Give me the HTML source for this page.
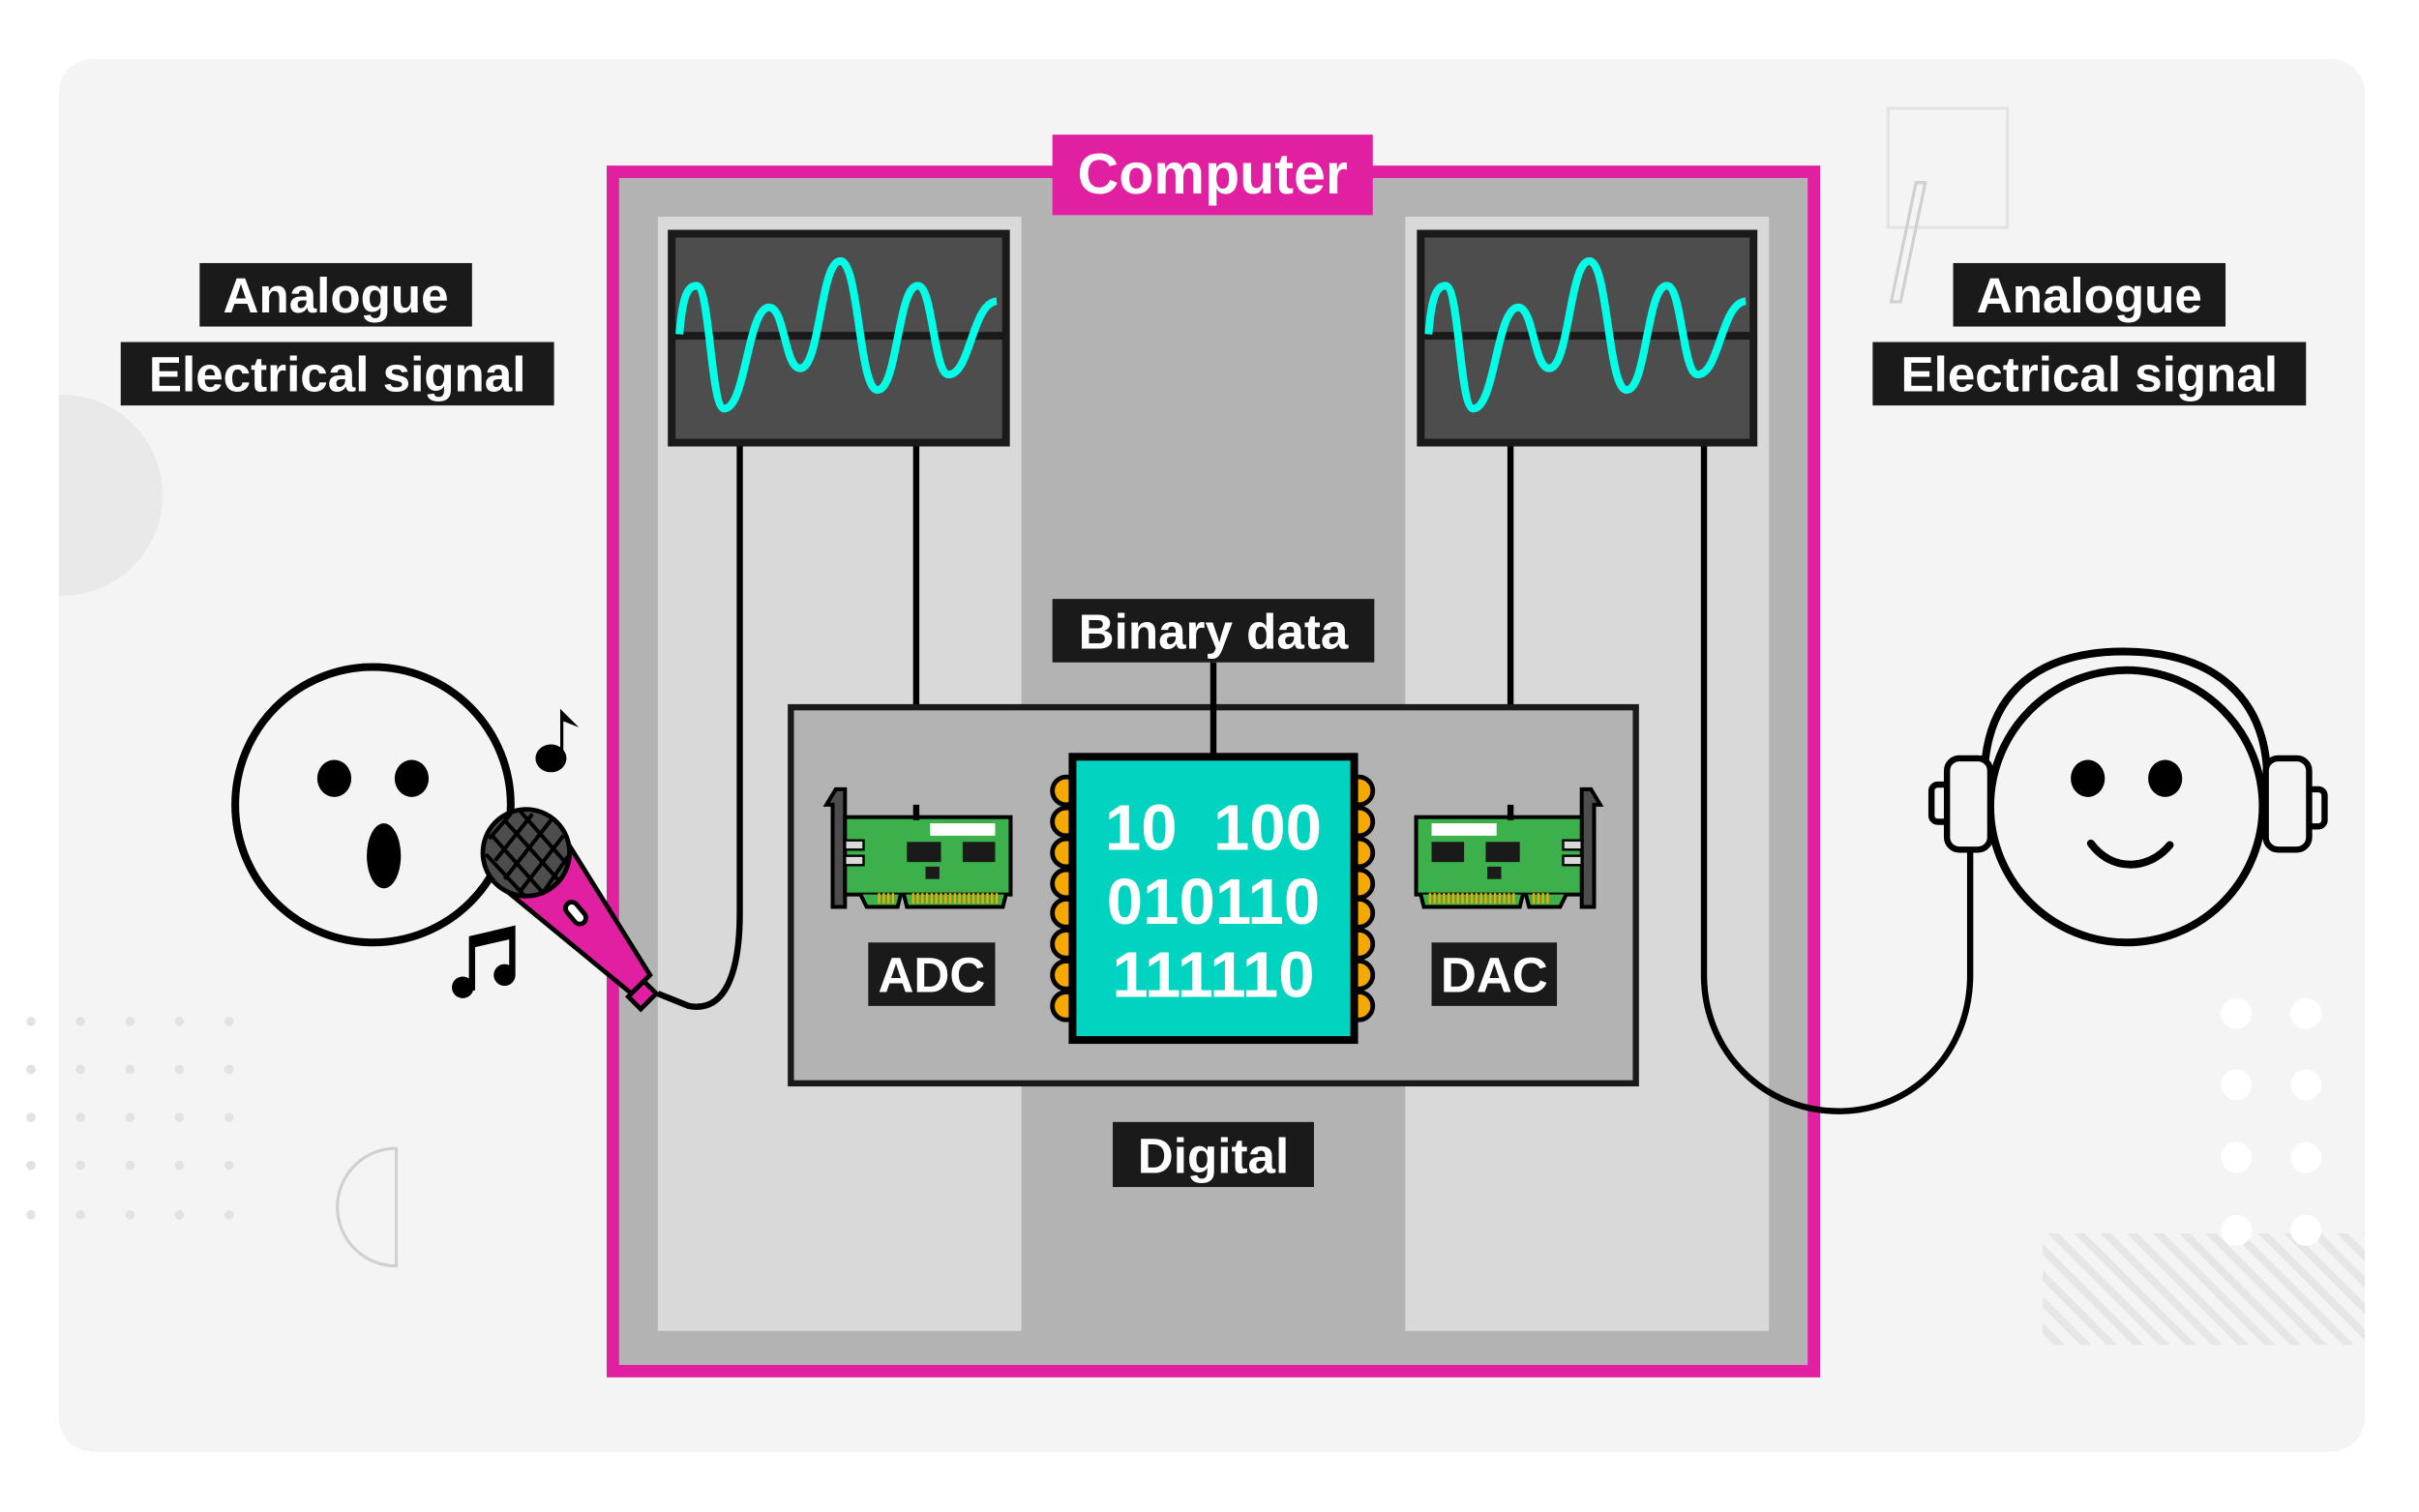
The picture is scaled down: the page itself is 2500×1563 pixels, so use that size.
<!DOCTYPE html>
<html><head><meta charset="utf-8"><style>html,body{margin:0;padding:0;background:#fff}svg{display:block}text{font-family:"Liberation Sans",sans-serif;font-weight:bold;fill:#fff}</style></head><body>
<svg width="2500" height="1563" viewBox="0 0 1563 977" preserveAspectRatio="none" xmlns="http://www.w3.org/2000/svg">
<defs><clipPath id="card"><rect x="38" y="38" width="1490" height="900" rx="22"/></clipPath>
<pattern id="hatch" width="12" height="12" patternUnits="userSpaceOnUse" patternTransform="rotate(-45)"><rect width="12" height="12" fill="#f4f4f4"/><rect width="5" height="12" fill="#e6e6e6"/></pattern></defs>
<rect width="1563" height="977" fill="#fff"/>
<rect x="38" y="38" width="1490" height="900" rx="22" fill="#f4f4f4"/>
<g clip-path="url(#card)">
<circle cx="40" cy="320" r="65" fill="#e9e9e9"/>
<rect x="1320" y="797" width="210" height="72" fill="url(#hatch)"/>
</g>
<g fill="#e2e2e2">
<circle cx="20" cy="660" r="3"/><circle cx="52" cy="660" r="3"/><circle cx="84" cy="660" r="3"/><circle cx="116" cy="660" r="3"/><circle cx="148" cy="660" r="3"/>
<circle cx="20" cy="691" r="3"/><circle cx="52" cy="691" r="3"/><circle cx="84" cy="691" r="3"/><circle cx="116" cy="691" r="3"/><circle cx="148" cy="691" r="3"/>
<circle cx="20" cy="722" r="3"/><circle cx="52" cy="722" r="3"/><circle cx="84" cy="722" r="3"/><circle cx="116" cy="722" r="3"/><circle cx="148" cy="722" r="3"/>
<circle cx="20" cy="753" r="3"/><circle cx="52" cy="753" r="3"/><circle cx="84" cy="753" r="3"/><circle cx="116" cy="753" r="3"/><circle cx="148" cy="753" r="3"/>
<circle cx="20" cy="785" r="3"/><circle cx="52" cy="785" r="3"/><circle cx="84" cy="785" r="3"/><circle cx="116" cy="785" r="3"/><circle cx="148" cy="785" r="3"/>
</g>
<path d="M256,742 A38,38 0 0 0 256,818 Z" fill="none" stroke="#d0d0d0" stroke-width="2"/>
<rect x="1220" y="70" width="77" height="77" fill="none" stroke="#e4e4e4" stroke-width="2"/>
<path d="M1238,118 L1222,195 L1228,195 L1244,118 Z" fill="none" stroke="#d0d0d0" stroke-width="2"/>
<g fill="#fff"><circle cx="1445" cy="655" r="10"/><circle cx="1490" cy="655" r="10"/><circle cx="1445" cy="701" r="10"/><circle cx="1490" cy="701" r="10"/><circle cx="1445" cy="748" r="10"/><circle cx="1490" cy="748" r="10"/><circle cx="1445" cy="795" r="10"/><circle cx="1490" cy="795" r="10"/></g>

<!-- computer -->
<rect x="396" y="111" width="776" height="775" fill="#b3b3b3" stroke="#e020a0" stroke-width="8"/>
<rect x="425" y="140" width="235" height="720" fill="#d9d9d9"/>
<rect x="908" y="140" width="235" height="720" fill="#d9d9d9"/>
<rect x="680" y="87" width="207" height="52" fill="#e020a0"/>
<text x="783.5" y="125" font-size="37" text-anchor="middle">Computer</text>

<!-- wires -->
<g fill="none" stroke="#000" stroke-width="4">
<path d="M478,287 V590 C478,625 470,655 445,650 L425,642"/>
<path d="M592,287 V525"/>
<path d="M976,287 V525"/>
<path d="M1101,287 V630 C1101,680 1140,718 1188,718 C1236,718 1273,680 1273,630 V548"/>
</g>

<!-- monitors -->
<g stroke="#1a1a1a" stroke-width="5">
<rect x="434" y="151" width="216" height="135" fill="#4d4d4d"/>
<rect x="918" y="151" width="215" height="135" fill="#4d4d4d"/>
<line x1="436" y1="217" x2="648" y2="217"/>
<line x1="920" y1="217" x2="1131" y2="217"/>
</g>
<path id="w" d="M439,216 C441,192 444,184.6 450,184.6 C459,184.6 459,264 468,264 C482,264 483,198.6 497,198.6 C507,198.6 507,238 517,238 C530,238 530,168.7 543,168.7 C555,168.7 555,252 567,252 C580,252 580,184.6 593,184.6 C603,184.6 603,242 613,242 C627,242 628,196 644,194.6" fill="none" stroke="#00ffe6" stroke-width="5"/>
<use href="#w" x="484"/>

<!-- digital box -->
<rect x="511" y="457" width="546" height="243" fill="#b3b3b3" stroke="#1a1a1a" stroke-width="4"/>
<line x1="784" y1="428" x2="784" y2="490" stroke="#000" stroke-width="4"/>
<rect x="680" y="387" width="208" height="41" fill="#1a1a1a"/>
<text x="784" y="419" font-size="32" text-anchor="middle">Binary data</text>

<!-- chip -->
<g fill="#f5a800" stroke="#000" stroke-width="3">
<circle cx="689" cy="511" r="9"/><circle cx="689" cy="531" r="9"/><circle cx="689" cy="551" r="9"/><circle cx="689" cy="571" r="9"/><circle cx="689" cy="590" r="9"/><circle cx="689" cy="610" r="9"/><circle cx="689" cy="630" r="9"/><circle cx="689" cy="650" r="9"/>
<circle cx="878" cy="511" r="9"/><circle cx="878" cy="531" r="9"/><circle cx="878" cy="551" r="9"/><circle cx="878" cy="571" r="9"/><circle cx="878" cy="590" r="9"/><circle cx="878" cy="610" r="9"/><circle cx="878" cy="630" r="9"/><circle cx="878" cy="650" r="9"/>
</g>
<rect x="693" y="489" width="182" height="183" fill="#00d4c0" stroke="#000" stroke-width="5"/>
<g font-size="42" text-anchor="middle"><text x="784" y="549" xml:space="preserve">10  100</text><text x="784" y="597">010110</text><text x="784" y="644">111110</text></g>

<!-- cards -->
<g id="card1" stroke="#000" stroke-width="2.5">
<path d="M538,520 L534,520 L540,510 L546,510 L546,586 L538,586 Z" fill="#4d4d4d"/>
<rect x="546" y="528" width="107" height="50" fill="#3cb04a"/>
<path d="M556,578 L560,586 L580,586 L582,578 M584,578 L586,586 L648,586 L650,578" fill="#3cb04a"/>
<rect x="546" y="543" width="12" height="6" fill="#d9d9d9" stroke-width="1.5"/><rect x="546" y="553" width="12" height="6" fill="#d9d9d9" stroke-width="1.5"/>
</g>
<g fill="#1a1a1a"><rect x="586" y="544" width="22" height="13"/><rect x="622" y="544" width="21" height="13"/><rect x="598" y="560" width="9" height="8"/></g>
<rect x="601" y="532" width="42" height="8" fill="#fff"/>
<g stroke="#f5a800" stroke-width="1.5"><path d="M568,577v7M571,577v7M574,577v7M577,577v7M590,577v7M593,577v7M596,577v7M599,577v7M602,577v7M605,577v7M608,577v7M611,577v7M614,577v7M617,577v7M620,577v7M623,577v7M626,577v7M629,577v7M632,577v7M635,577v7M638,577v7M641,577v7M644,577v7"/></g>
<g transform="translate(1568,0) scale(-1,1)">
<g stroke="#000" stroke-width="2.5">
<path d="M538,520 L534,520 L540,510 L546,510 L546,586 L538,586 Z" fill="#4d4d4d"/>
<rect x="546" y="528" width="107" height="50" fill="#3cb04a"/>
<path d="M556,578 L560,586 L580,586 L582,578 M584,578 L586,586 L648,586 L650,578" fill="#3cb04a"/>
<rect x="546" y="543" width="12" height="6" fill="#d9d9d9" stroke-width="1.5"/><rect x="546" y="553" width="12" height="6" fill="#d9d9d9" stroke-width="1.5"/>
</g>
<g fill="#1a1a1a"><rect x="586" y="544" width="22" height="13"/><rect x="622" y="544" width="21" height="13"/><rect x="598" y="560" width="9" height="8"/></g>
<rect x="601" y="532" width="42" height="8" fill="#fff"/>
<g stroke="#f5a800" stroke-width="1.5"><path d="M568,577v7M571,577v7M574,577v7M577,577v7M590,577v7M593,577v7M596,577v7M599,577v7M602,577v7M605,577v7M608,577v7M611,577v7M614,577v7M617,577v7M620,577v7M623,577v7M626,577v7M629,577v7M632,577v7M635,577v7M638,577v7M641,577v7M644,577v7"/></g>
</g>
<line x1="592" y1="520" x2="592" y2="530" stroke="#000" stroke-width="4"/>
<line x1="976" y1="520" x2="976" y2="530" stroke="#000" stroke-width="4"/>

<rect x="561" y="609" width="82" height="41" fill="#1a1a1a"/><text x="602" y="641" font-size="32" text-anchor="middle">ADC</text>
<rect x="925" y="609" width="81" height="41" fill="#1a1a1a"/><text x="965.5" y="641" font-size="32" text-anchor="middle">DAC</text>
<rect x="719" y="725" width="130" height="42" fill="#1a1a1a"/><text x="784" y="758" font-size="32" text-anchor="middle">Digital</text>

<!-- labels -->
<g font-size="32" text-anchor="middle">
<rect x="129" y="170" width="176" height="41" fill="#1a1a1a"/><text x="217" y="202">Analogue</text>
<rect x="78" y="221" width="280" height="41" fill="#1a1a1a"/><text x="218" y="253">Electrical signal</text>
<rect x="1262" y="170" width="176" height="41" fill="#1a1a1a"/><text x="1350" y="202">Analogue</text>
<rect x="1210" y="221" width="280" height="41" fill="#1a1a1a"/><text x="1350" y="253">Electrical signal</text>
</g>

<!-- left face -->
<circle cx="241" cy="520" r="89" fill="#f4f4f4" stroke="#000" stroke-width="5"/>
<ellipse cx="216" cy="503" rx="11" ry="12" fill="#000"/><ellipse cx="266" cy="503" rx="11" ry="12" fill="#000"/>
<ellipse cx="248" cy="553" rx="11" ry="21" fill="#000"/>
<!-- notes -->
<g fill="#000">
<ellipse cx="356" cy="490" rx="10" ry="9"/><path d="M362,490 V458 L374,470 L364,466 V490 Z"/>
<path d="M303,640 V605 L333,598 V630 L329,630 V607 L307,612 V640 Z"/>
<ellipse cx="299" cy="638" rx="7" ry="7"/><ellipse cx="326" cy="630" rx="7" ry="7"/>
</g>
<!-- mic -->
<g stroke="#000" stroke-width="3">
<path d="M318,568 L408,642 L420,630 L362,537 Z" fill="#e020a0"/>
<path d="M406,644 L414,652 L424,642 L416,634 Z" fill="#e020a0"/>
<circle cx="340" cy="551" r="28" fill="#4d4d4d"/>
<rect x="368" y="582" width="8" height="16" rx="4" transform="rotate(-40 372 590)" fill="#fff"/>
</g>
<g stroke="#000" stroke-width="2.5" clip-path="none">
<path d="M318,540 L350,576 M326,530 L362,570 M336,524 L366,558 M314,552 L340,580 M330,526 L316,542 M344,526 L320,556 M356,530 L326,568 M364,540 L336,576 M368,552 L350,578"/>
</g>

<!-- right face -->
<path d="M1282,505 C1282,445 1320,421 1372,421 C1430,421 1465,450 1465,505" fill="none" stroke="#000" stroke-width="5"/>
<circle cx="1374" cy="521" r="88" fill="#f4f4f4" stroke="#000" stroke-width="5"/>
<ellipse cx="1349" cy="503" rx="11" ry="12" fill="#000"/><ellipse cx="1399" cy="503" rx="11" ry="12" fill="#000"/>
<path d="M1351,545 C1364,563 1388,563 1402,546" fill="none" stroke="#000" stroke-width="5" stroke-linecap="round"/>
<g fill="#f4f4f4" stroke="#000" stroke-width="4">
<rect x="1248" y="507" width="14" height="24" rx="4"/>
<rect x="1258" y="490" width="28" height="59" rx="8"/>
<rect x="1488" y="510" width="14" height="24" rx="4"/>
<rect x="1464" y="490" width="28" height="59" rx="8"/>
</g>
</svg>
</body></html>
